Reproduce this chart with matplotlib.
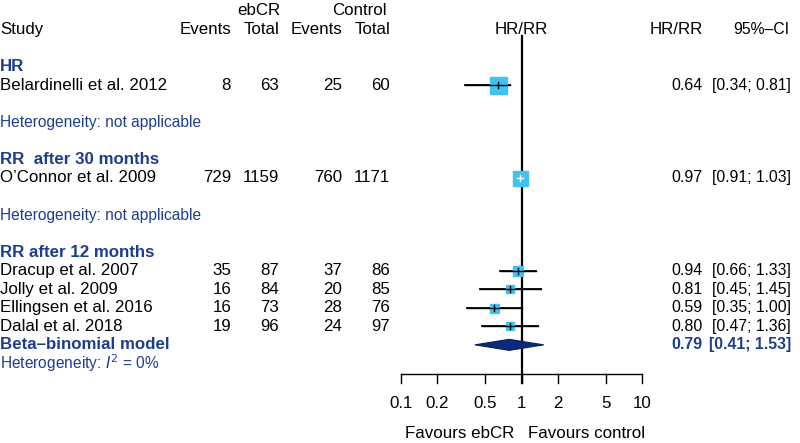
import numpy as np
import matplotlib
matplotlib.use("Agg")
import matplotlib.pyplot as plt

# study level data
studies = ["Belardinelli et al. 2012", "O\u2019Connor et al. 2009", "Dracup et al. 2007",
           "Jolly et al. 2009", "Ellingsen et al. 2016", "Dalal et al. 2018"]
ev_e = [8, 729, 35, 16, 16, 19]
n_e = [63, 1159, 87, 84, 73, 96]
ev_c = [25, 760, 37, 20, 28, 24]
n_c = [60, 1171, 86, 85, 76, 97]
est = [0.64, 0.97, 0.94, 0.81, 0.59, 0.80]
lo = [0.34, 0.91, 0.66, 0.45, 0.35, 0.47]
hi = [0.81, 1.03, 1.33, 1.45, 1.00, 1.36]
sq_px = [17, 15, 10, 8, 9, 8]
study_rows = [3, 8, 13, 14, 15, 16]

groups = ["HR", "RR  after 30 months", "RR after 12 months"]
group_rows = [2, 7, 12]
het_rows = [5, 10]

pooled = (0.79, 0.41, 1.53)
pooled_row = 17
ticks = [0.1, 0.2, 0.5, 1, 2, 5, 10]

blue = "#1f3d8f"
navy = "#0c2a7d"
sky = "#3fc3f5"

plt.rcParams['font.family'] = ['Liberation Sans', 'DejaVu Sans']
FS = 12.2
FS_HET = 11.2
FS_EST = 11.5
FS_CI = 11.3

W, H = 800, 443
fig = plt.figure(figsize=(W / 100, H / 100), dpi=100)
tx = fig.add_axes([0, 0, 1, 1])
tx.set_xlim(0, W)
tx.set_ylim(H, 0)
tx.axis('off')


def ry(r):
    return 29.5 + 18.55 * r


# headers
tx.text(0, ry(0), "Study", fontsize=FS, va='center', ha='left')
for x, s in [(231, "Events"), (279, "Total"), (342, "Events"), (390, "Total")]:
    tx.text(x, ry(0), s, fontsize=FS, va='center', ha='right')
tx.text(280, ry(0) - 19, "ebCR", fontsize=FS, va='center', ha='right')
tx.text(387, ry(0) - 19, "Control", fontsize=FS, va='center', ha='right')
tx.text(521, ry(0), "HR/RR", fontsize=FS, va='center', ha='center')
tx.text(703, ry(0), "HR/RR", fontsize=FS, va='center', ha='right')
tx.text(789, ry(0), "95%\u2013CI", fontsize=FS_CI, va='center', ha='right')

for g, r in zip(groups, group_rows):
    tx.text(0, ry(r), g, fontsize=FS, va='center', ha='left', color=blue, fontweight='bold')
for r in het_rows:
    tx.text(0, ry(r), "Heterogeneity: not applicable", fontsize=FS_HET, va='center',
            ha='left', color=blue)
tx.text(0, ry(18), r"Heterogeneity: $I^2$ = 0%", fontsize=FS_HET, va='center',
        ha='left', color=blue)

for i, r in enumerate(study_rows):
    y = ry(r)
    tx.text(0, y, studies[i], fontsize=FS, va='center', ha='left')
    tx.text(231, y, str(ev_e[i]), fontsize=FS, va='center', ha='right')
    tx.text(279, y, str(n_e[i]), fontsize=FS, va='center', ha='right')
    tx.text(342, y, str(ev_c[i]), fontsize=FS, va='center', ha='right')
    tx.text(390, y, str(n_c[i]), fontsize=FS, va='center', ha='right')
    tx.text(703, y, f"{est[i]:.2f}", fontsize=FS_EST, va='center', ha='right')
    tx.text(791, y, f"[{lo[i]:.2f}; {hi[i]:.2f}]", fontsize=FS_CI, va='center', ha='right')

yp = ry(pooled_row)
tx.text(0, yp, "Beta\u2013binomial model", fontsize=FS, va='center', ha='left',
        color=blue, fontweight='bold')
tx.text(703, yp, f"{pooled[0]:.2f}", fontsize=FS_EST, va='center', ha='right',
        color=blue, fontweight='bold')
tx.text(791, yp, f"[{pooled[1]:.2f}; {pooled[2]:.2f}]", fontsize=FS_CI, va='center',
        ha='right', color=blue, fontweight='bold')

# forest panel
ax = fig.add_axes([401 / W, 0, 241 / W, 1])
ax.set_xscale('log')
ax.set_xlim(0.1, 10)
ax.set_ylim(H, 0)
ax.axis('off')

axis_y = 374
ax.plot([1, 1], [36, axis_y + 9], color='black', lw=1.6, zorder=1)

for i, r in enumerate(study_rows):
    y = ry(r)
    ax.plot([lo[i], hi[i]], [y, y], color='black', lw=1.3, zorder=2)
    ax.plot(est[i], y, marker='s', ms=sq_px[i] * 0.72, color=sky, mec=sky, zorder=3)
    ax.plot([lo[i], hi[i]], [y, y], color='black' if i != 1 else 'white', lw=1.0, zorder=4)
    ax.plot([est[i], est[i]], [y - 3, y + 3], color='black' if i != 1 else 'white',
            lw=1.0, zorder=4)

# pooled diamond
est0, lo0, hi0 = pooled
ax.fill([lo0, est0, hi0, est0], [yp, yp - 5.5, yp, yp + 5.5], facecolor=navy,
        edgecolor='#0a1f5c', lw=0.8, zorder=5)

# bottom axis
ax.plot([0.1, 10], [axis_y, axis_y], color='black', lw=1.0, clip_on=False)
for t in ticks:
    ax.plot([t, t], [axis_y, axis_y + 9], color='black', lw=1.0, clip_on=False)
    ax.text(t, 404, f"{t:g}", fontsize=FS, ha='center', va='center')
ax.text(0.87, 433, "Favours ebCR", fontsize=FS, ha='right', va='center')
ax.text(1.13, 433, "Favours control", fontsize=FS, ha='left', va='center')

fig.savefig("out.png", dpi=100)
